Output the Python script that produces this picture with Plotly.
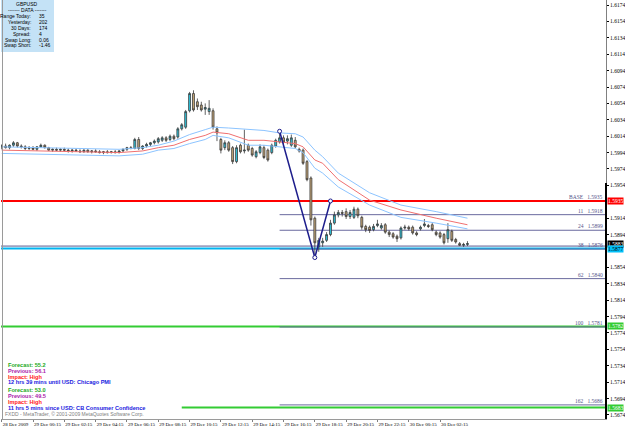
import plotly.graph_objects as go

# ---------------- data ----------------
bar_index = list(range(120))
opens = [1.6001,1.6002,1.6000,1.6003,1.6006,1.6002,1.6001,1.5999,1.6000,1.5998,
         1.6001,1.6003,1.6000,1.5997,1.5998,1.5997,1.5998,1.5997,1.5996,1.5997,
         1.5996,1.5995,1.5997,1.5995,1.5996,1.5995,1.5994,1.5995,1.5994,1.5995,
         1.5994,1.5996,1.5998,1.6000,1.5999,1.6010,1.5999,1.6002,1.6004,1.6006,
         1.6007,1.6009,1.6012,1.6010,1.6014,1.6013,1.6023,1.6025,1.6045,1.6066,
         1.6056,1.6052,1.6047,1.6044,1.6045,1.6023,1.6010,1.6000,1.6006,1.6000,
         1.5983,1.6003,1.5996,1.6003,1.5999,1.5989,1.5994,1.6000,1.5997,1.5994,
         1.6002,1.6007,1.6012,1.6008,1.6003,1.6009,1.5998,1.5997,1.5983,1.5963,
         1.5914,1.5879,1.5884,1.5887,1.5894,1.5908,1.5918,1.5921,1.5922,1.5916,
         1.5915,1.5925,1.5915,1.5904,1.5903,1.5900,1.5905,1.5902,1.5906,1.5897,
         1.5895,1.5892,1.5890,1.5902,1.5903,1.5903,1.5896,1.5901,1.5905,1.5905,
         1.5906,1.5897,1.5896,1.5894,1.5889,1.5898,1.5888,1.5883,1.5881,1.5882]
highs = [1.6004,1.6005,1.6004,1.6008,1.6007,1.6004,1.6003,1.6002,1.6002,1.6002,
         1.6005,1.6004,1.6001,1.5999,1.6000,1.5999,1.6000,1.5999,1.5998,1.5999,
         1.5998,1.5998,1.5998,1.5997,1.5998,1.5997,1.5996,1.5997,1.5996,1.5997,
         1.5997,1.5999,1.6001,1.6002,1.6012,1.6013,1.6003,1.6006,1.6007,1.6010,
         1.6013,1.6014,1.6014,1.6016,1.6016,1.6025,1.6030,1.6046,1.6068,1.6070,
         1.6060,1.6056,1.6054,1.6058,1.6048,1.6026,1.6012,1.6009,1.6008,1.6002,
         1.6003,1.6005,1.6022,1.6005,1.6001,1.5997,1.6004,1.6003,1.5999,1.6005,
         1.6011,1.6020,1.6015,1.6015,1.6016,1.6013,1.6000,1.5999,1.5985,1.5965,
         1.5916,1.5890,1.5890,1.5897,1.5912,1.5922,1.5924,1.5924,1.5926,1.5924,
         1.5928,1.5927,1.5917,1.5906,1.5905,1.5907,1.5912,1.5908,1.5908,1.5899,
         1.5897,1.5894,1.5904,1.5906,1.5905,1.5905,1.5898,1.5905,1.5913,1.5907,
         1.5908,1.5899,1.5898,1.5896,1.5908,1.5900,1.5890,1.5885,1.5884,1.5886]
lows = [1.5998,1.5999,1.5998,1.6001,1.6000,1.5999,1.5997,1.5997,1.5997,1.5996,
        1.6000,1.5999,1.5996,1.5995,1.5996,1.5995,1.5996,1.5994,1.5994,1.5995,
        1.5994,1.5994,1.5994,1.5993,1.5994,1.5993,1.5992,1.5993,1.5993,1.5993,
        1.5993,1.5995,1.5996,1.5998,1.5998,1.5997,1.5997,1.6000,1.6002,1.6004,
        1.6005,1.6007,1.6007,1.6008,1.6009,1.6011,1.6021,1.6023,1.6043,1.6044,
        1.6046,1.6044,1.6040,1.6040,1.6022,1.6008,1.5993,1.5997,1.5995,1.5980,
        1.5981,1.5993,1.5993,1.5995,1.5989,1.5987,1.5992,1.5986,1.5983,1.5992,
        1.6000,1.6005,1.6004,1.6004,1.6001,1.5999,1.5994,1.5979,1.5959,1.5905,
        1.5866,1.5873,1.5879,1.5885,1.5892,1.5906,1.5915,1.5916,1.5913,1.5913,
        1.5913,1.5914,1.5900,1.5897,1.5896,1.5898,1.5903,1.5900,1.5895,1.5891,
        1.5889,1.5885,1.5888,1.5900,1.5899,1.5894,1.5892,1.5899,1.5903,1.5902,
        1.5898,1.5892,1.5889,1.5882,1.5884,1.5885,1.5883,1.5880,1.5879,1.5880]
closes = [1.6002,1.6000,1.6003,1.6006,1.6002,1.6001,1.5999,1.6000,1.5998,1.6001,
          1.6003,1.6000,1.5997,1.5998,1.5997,1.5998,1.5997,1.5996,1.5997,1.5996,
          1.5995,1.5997,1.5995,1.5996,1.5995,1.5994,1.5995,1.5994,1.5995,1.5994,
          1.5996,1.5998,1.6000,1.5999,1.6010,1.5999,1.6002,1.6004,1.6006,1.6008,
          1.6011,1.6012,1.6009,1.6014,1.6011,1.6023,1.6028,1.6044,1.6066,1.6046,
          1.6050,1.6046,1.6049,1.6048,1.6025,1.6018,1.5997,1.6006,1.5997,1.5983,
          1.6000,1.5995,1.5997,1.5997,1.5991,1.5995,1.6001,1.5988,1.5985,1.6003,
          1.6009,1.6012,1.6007,1.6011,1.6012,1.6001,1.5996,1.5981,1.5961,1.5912,
          1.5884,1.5887,1.5886,1.5894,1.5908,1.5918,1.5921,1.5920,1.5916,1.5921,
          1.5925,1.5917,1.5903,1.5900,1.5899,1.5904,1.5907,1.5905,1.5897,1.5894,
          1.5891,1.5889,1.5902,1.5903,1.5901,1.5896,1.5894,1.5903,1.5907,1.5904,
          1.5900,1.5894,1.5891,1.5884,1.5900,1.5887,1.5885,1.5881,1.5882,1.5883]

tick_index = [0, 8, 16, 24, 32, 40, 48, 56, 64, 72, 80, 88, 96, 104, 112]
tick_labels = ["28 Dec 2009", "29 Dec 00:15", "29 Dec 02:15", "29 Dec 04:15",
               "29 Dec 06:15", "29 Dec 08:15", "29 Dec 10:15", "29 Dec 12:15",
               "29 Dec 14:15", "29 Dec 16:15", "29 Dec 18:15", "29 Dec 20:15",
               "29 Dec 22:15", "30 Dec 00:15", "30 Dec 02:15"]

price_ticks = [1.5674, 1.5694, 1.5714, 1.5734, 1.5754, 1.5774, 1.5794, 1.5814,
               1.5834, 1.5854, 1.5894, 1.5914, 1.5954, 1.5974,
               1.5994, 1.6014, 1.6034, 1.6054, 1.6074, 1.6094, 1.6114, 1.6134,
               1.6154, 1.6174]

ma_index = [0, 10, 20, 30, 36, 40, 44, 48, 52, 54, 58, 63, 67, 71, 75, 77, 80,
            82, 86, 94, 102, 111, 119]
ma_upper = [1.6001, 1.6000, 1.5999, 1.5998, 1.6000, 1.6003, 1.6008, 1.6016,
            1.6022, 1.6025, 1.6024, 1.6022, 1.6021, 1.6018, 1.6017, 1.6013,
            1.5997, 1.5989, 1.5969, 1.5945, 1.5930, 1.5922, 1.5914]
ma_mid = [1.5997, 1.5996, 1.5995, 1.5994, 1.5996, 1.6000, 1.6003, 1.6010,
          1.6015, 1.6019, 1.6017, 1.6009, 1.6009, 1.6007, 1.6005, 1.6001,
          1.5985, 1.5981, 1.5961, 1.5936, 1.5924, 1.5914, 1.5906]
ma_lower = [1.5993, 1.5992, 1.5991, 1.5990, 1.5992, 1.5997, 1.5999, 1.6005,
            1.6010, 1.6015, 1.6012, 1.6003, 1.6003, 1.6001, 1.5999, 1.5994,
            1.5975, 1.5969, 1.5952, 1.5930, 1.5915, 1.5908, 1.5901]

zigzag_index = [71, 80, 84]
zigzag_price = [1.6020, 1.5866, 1.5935]

fib_names = ["BASE", "11", "24", "38", "62", "100", "162"]
fib_prices = [1.5935, 1.5918, 1.5899, 1.5876, 1.5840, 1.5781, 1.5686]
fib_start = 71

hline_prices = [1.5935, 1.5877, 1.5782, 1.5683]
hline_colors = ["#ff0000", "#00b4f0", "#33cc33", "#33cc33"]
hline_starts = [None, None, None, 46]

tag_prices = [1.5935, 1.5883, 1.5877, 1.5782, 1.5683]
tag_bg = ["#ff0000", "#000000", "#00c0f8", "#33cc33", "#33cc33"]
tag_fg = ["#ffffff", "#ffffff", "#000000", "#ffffff", "#ffffff"]

info_labels = ["Range Today:", "Yesterday:", "30 Days:", "Spread:", "Swap Long:", "Swap Short:"]
info_values = ["35", "202", "174", "4", "0.06", "-1.46"]

news_lines = ["Forecast: 55.2", "Previous: 56.1", "Impact: High",
              "12 hrs 39 mins until USD: Chicago PMI",
              "Forecast: 53.0", "Previous: 49.5", "Impact: High",
              "11 hrs 5 mins since USD: CB Consumer Confidence"]
news_colors = ["#22aa22", "#aa22aa", "#ff2020", "#2020e0",
               "#22aa22", "#aa22aa", "#ff2020", "#2020e0"]

# ---------------- layout constants ----------------
W, H = 625, 429
ML, MR, MT, MB = 1, 19, 0, 10
PW, PH = W - ML - MR, H - MT - MB
X_RANGE = [-0.18, -0.18 + PW / 3.914]
Y_RANGE = [1.56691, 1.61801]


def px(x):
    return (x - ML) / PW


def py(y):
    return 1 - (y - MT) / PH


fig = go.Figure()

# horizontal level lines (under candles)
for p, c, s in zip(hline_prices, hline_colors, hline_starts):
    if s is None:
        fig.add_shape(type="line", xref="paper", yref="y", x0=0, x1=1, y0=p, y1=p,
                      line=dict(color=c, width=2), layer="below")
    else:
        fig.add_shape(type="line", xref="x", yref="y", x0=s, x1=X_RANGE[1], y0=p, y1=p,
                      line=dict(color=c, width=2), layer="below")
# dark line near cyan level on the left
fig.add_shape(type="line", xref="paper", yref="y", x0=0, x1=1, y0=1.5880, y1=1.5880,
              line=dict(color="#5a5a90", width=1), layer="below")

for n, p in zip(fib_names, fib_prices):
    if n != "BASE":
        fig.add_shape(type="line", xref="x", yref="y", x0=fib_start, x1=X_RANGE[1],
                      y0=p + 0.00003, y1=p + 0.00003,
                      line=dict(color="#6a6a9e", width=1), layer="below")
    fig.add_annotation(xref="paper", yref="y", x=1, y=p, xanchor="right", yanchor="bottom",
                       text=f"{n}&nbsp;&nbsp;&nbsp;{p:.4f}", showarrow=False, xshift=-1, yshift=-1,
                       font=dict(family="Liberation Serif", size=5.5, color="#55558a"))

# moving average envelope
fig.add_trace(go.Scatter(x=ma_index, y=ma_upper, mode="lines",
                         line=dict(color="#8cc4ff", width=1), hoverinfo="skip"))
fig.add_trace(go.Scatter(x=ma_index, y=ma_lower, mode="lines",
                         line=dict(color="#8cc4ff", width=1), hoverinfo="skip"))
fig.add_trace(go.Scatter(x=ma_index, y=ma_mid, mode="lines",
                         line=dict(color="#f07070", width=1), hoverinfo="skip"))

# candles
fig.add_trace(go.Candlestick(
    x=bar_index, open=opens, high=highs, low=lows, close=closes,
    increasing=dict(fillcolor="#2ec4dc", line=dict(color="#3a3a3a", width=0.8)),
    decreasing=dict(fillcolor="#c8a878", line=dict(color="#3a3a3a", width=0.8)),
    whiskerwidth=0, hoverinfo="skip"))

# zigzag
fig.add_trace(go.Scatter(x=zigzag_index, y=zigzag_price, mode="lines+markers",
                         line=dict(color="#1e1e8c", width=1.5),
                         marker=dict(size=4, color="white", line=dict(color="#1e1e8c", width=1)),
                         hoverinfo="skip"))

# price tags on the right axis
for p, bg, fg in zip(tag_prices, tag_bg, tag_fg):
    fig.add_annotation(xref="paper", yref="y", x=1, y=p, xanchor="left", yanchor="middle",
                       text=f"{p:.4f}", showarrow=False, xshift=1, bgcolor=bg, borderpad=0,
                       font=dict(family="Liberation Serif", size=5.5, color=fg))

# top-left info box
fig.add_shape(type="rect", xref="paper", yref="paper", x0=px(1), x1=px(54), y0=py(52), y1=py(0),
              fillcolor="#c4e2f6", line=dict(width=0), layer="above")
fig.add_annotation(xref="paper", yref="paper", x=px(27), y=py(4), xanchor="center", yanchor="middle",
                   text="GBPUSD", showarrow=False,
                   font=dict(family="Liberation Sans", size=5, color="#000"))
fig.add_annotation(xref="paper", yref="paper", x=px(27), y=py(10), xanchor="center", yanchor="middle",
                   text="------- DATA -------", showarrow=False,
                   font=dict(family="Liberation Sans", size=5, color="#000"))
for k, (lab, val) in enumerate(zip(info_labels, info_values)):
    yy = py(16 + 5.9 * k)
    fig.add_annotation(xref="paper", yref="paper", x=px(33), y=yy, xanchor="right", yanchor="middle",
                       text=lab, showarrow=False,
                       font=dict(family="Liberation Sans", size=5, color="#000"))
    fig.add_annotation(xref="paper", yref="paper", x=px(37), y=yy, xanchor="left", yanchor="middle",
                       text=val, showarrow=False,
                       font=dict(family="Liberation Sans", size=5, color="#000"))

# news text bottom-left
news_y = [365, 371, 376.5, 382, 390, 396, 402, 408]
for t, c, yy in zip(news_lines, news_colors, news_y):
    fig.add_annotation(xref="paper", yref="paper", x=px(6), y=py(yy), xanchor="left", yanchor="middle",
                       text=f"<b>{t}</b>", showarrow=False,
                       font=dict(family="Liberation Sans", size=5.6, color=c))
fig.add_annotation(xref="paper", yref="paper", x=px(3), y=py(413.5), xanchor="left", yanchor="middle",
                   text="FXDD - MetaTrader, \u00a9 2001-2009 MetaQuotes Software Corp.", showarrow=False,
                   font=dict(family="Liberation Sans", size=5, color="#808080"))

# frame lines
fig.add_shape(type="line", xref="paper", yref="paper", x0=px(2.5), x1=px(2.5), y0=0, y1=1,
              line=dict(color="#9a9a9a", width=1))
fig.add_shape(type="line", xref="paper", yref="y", x0=1, x1=1, y0=Y_RANGE[0], y1=1.5957,
              line=dict(color="#000000", width=2))

fig.update_layout(
    width=W, height=H, margin=dict(l=ML, r=MR, t=MT, b=MB, autoexpand=False),
    paper_bgcolor="white", plot_bgcolor="white", showlegend=False,
    xaxis=dict(range=X_RANGE, rangeslider=dict(visible=False), showgrid=False, zeroline=False,
               tickmode="array", tickvals=tick_index, ticktext=tick_labels,
               tickangle=0, automargin=False,
               ticks="outside", ticklen=2, tickcolor="#808080",
               ticklabelposition="outside right",
               tickfont=dict(family="Liberation Serif", size=5, color="#000"),
               showline=True, linecolor="#9a9a9a", linewidth=1, fixedrange=True),
    yaxis=dict(range=Y_RANGE, side="right", showgrid=False, zeroline=False, automargin=False,
               tickmode="array", tickvals=price_ticks, ticktext=[f"{v:.4f}" for v in price_ticks],
               ticks="outside", ticklen=2, tickcolor="#000",
               tickfont=dict(family="Liberation Serif", size=5.5, color="#000"),
               showline=True, linecolor="#808080", linewidth=1, fixedrange=True),
)

fig.write_html("out.html")
